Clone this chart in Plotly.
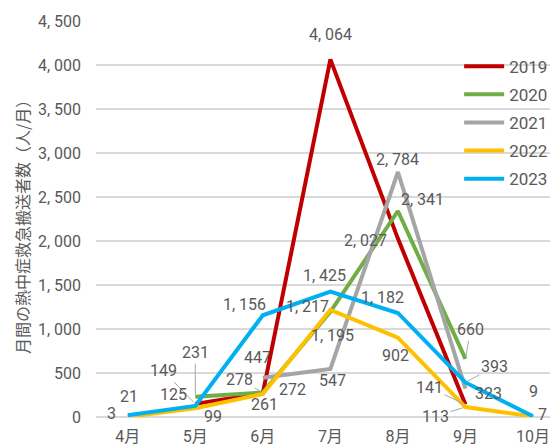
import plotly.graph_objects as go

months = ["4月", "5月", "6月", "7月", "8月", "9月", "10月"]
years = ["2019", "2020", "2021", "2022", "2023"]
v2019 = [None, 149, 272, 4064, 2027, 141, None]
v2020 = [None, 231, 278, 1195, 2341, 660, None]
v2021 = [None, None, 447, 547, 2784, 323, None]
v2022 = [3, 99, 261, 1217, 902, 113, 7]
v2023 = [21, 125, 1156, 1425, 1182, 393, 9]
y_ticks = [0, 500, 1000, 1500, 2000, 2500, 3000, 3500, 4000, 4500]

series = [v2019, v2020, v2021, v2022, v2023]
colors = ["#C00000", "#70AD47", "#A5A5A5", "#FFC000", "#00B0F0"]

# label offsets (px) per series/month: (dx, dy, leader)
offsets = {
    0: {1: (-32, 33, True), 2: (30, 4, False), 3: (0, 25, False), 4: (-32, -2, False), 5: (-36, 17, True)},
    1: {1: (0, 44, True), 2: (-23, 13, True), 3: (2, -24, False), 4: (25, 11, False), 5: (5, 29, True)},
    2: {2: (-5, 20, False), 3: (2, -12, False), 4: (0, 13, False), 5: (23, -5, False)},
    3: {0: (-16, 3, False), 1: (18, -8, False), 2: (2, -10, False), 3: (-23, 3, False),
        4: (-2, -18, False), 5: (-30, -9, True), 6: (9, 2, False)},
    4: {0: (1, 19, False), 1: (-22, 12, False), 2: (-18, 11, False), 3: (-6, 16, False),
        4: (-15, 15, False), 5: (29, 16, True), 6: (0, 25, False)},
}

font_fam = "Roboto, Noto Sans CJK JP, sans-serif"
label_color = "#595959"


def fmt(v):
    return f"{v:,}".replace(",", ", ")


fig = go.Figure()
for yr, vals, col in zip(years, series, colors):
    fig.add_trace(go.Scatter(x=months, y=vals, mode="lines", name=yr, legendgroup=yr,
                             line=dict(color=col, width=4), connectgaps=False))

annotations = []
for s, vals in enumerate(series):
    for m, v in enumerate(vals):
        if v is None or m not in offsets[s]:
            continue
        dx, dy, leader = offsets[s][m]
        if leader:
            annotations.append(dict(x=months[m], y=v, text=fmt(v), showarrow=True,
                                    arrowhead=0, arrowwidth=1, arrowcolor="#A6A6A6",
                                    ax=dx, ay=-dy, standoff=2,
                                    font=dict(size=16, color=label_color, family=font_fam)))
        else:
            annotations.append(dict(x=months[m], y=v, text=fmt(v), showarrow=False,
                                    xshift=dx, yshift=dy,
                                    font=dict(size=16, color=label_color, family=font_fam)))

annotations.append(dict(xref="paper", yref="paper", x=-0.16, y=0.49,
                        xanchor="center", yanchor="middle",
                        text="月間の熱中症救急搬送者数（人/月）", textangle=-90,
                        showarrow=False, font=dict(size=16, color=label_color,
                                                   family="Noto Sans CJK JP")))

# page body adds ~8px offset, so figure is drawn 8px smaller
fig.update_layout(
    width=550, height=440,
    margin=dict(l=88, r=0, t=13, b=31),
    plot_bgcolor="white", paper_bgcolor="white",
    font=dict(family=font_fam, size=16, color=label_color),
    showlegend=True,
    legend=dict(x=0.786, y=0.93, xanchor="left", yanchor="top",
                bgcolor="rgba(0,0,0,0)", font=dict(size=17, color=label_color),
                tracegroupgap=3, itemwidth=40),
    xaxis=dict(range=[-0.47, 6.37], showgrid=False, showline=False,
               ticks="", tickfont=dict(size=16), ticklabelstandoff=8),
    yaxis=dict(range=[0, 4500], tickvals=y_ticks, ticktext=[fmt(t) for t in y_ticks],
               showgrid=True, gridcolor="#D9D9D9", gridwidth=2, zeroline=True,
               zerolinecolor="#D9D9D9", zerolinewidth=2, ticklabelstandoff=14,
               tickfont=dict(size=16)),
    annotations=annotations,
)

fig.write_html("out.html")
